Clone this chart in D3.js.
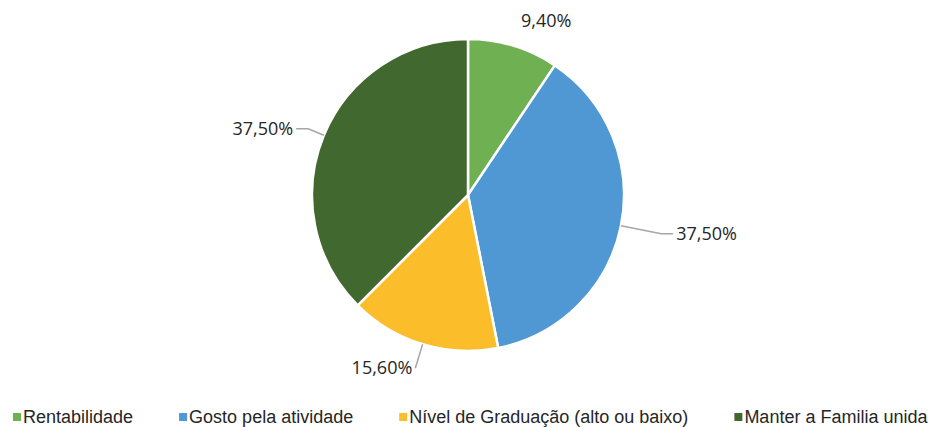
<!DOCTYPE html>
<html>
<head>
<meta charset="utf-8">
<script src="https://cdn.jsdelivr.net/npm/d3@7"></script>
<style>
  body { margin: 0; background: #ffffff; }
</style>
</head>
<body>
<div id="chart"></div>
<script>
//
// data
//
var categories = ["Rentabilidade", "Gosto pela atividade", "Nível de Graduação (alto ou baixo)", "Manter a Familia unida"];
var values = [9.4, 37.5, 15.6, 37.5];
var labels = ["9,40%", "37,50%", "15,60%", "37,50%"];
var colors = ["#6FB052", "#5098D4", "#FCBD2B", "#41692F"];

//
// layout: how far each label sits outside the pie, and whether it has a leader
//
var labelOffset = [26, 41, 25, 17];
var showLeader = [false, true, true, true];

var width = 937, height = 427;
var cx = 468, cy = 195, radius = 156;

var svg = d3.select("#chart").append("svg")
	.attr("width", width)
	.attr("height", height);

var data = categories.map(function(c, i) {
	return {name: c, value: values[i], label: labels[i], color: colors[i],
		off: labelOffset[i], leader: showLeader[i]};
});

//
// pie, starting at 12 o'clock and going clockwise
//
var pie = d3.pie()
	.sort(null)
	.value(function(d) { return d.value; });

var arc = d3.arc()
	.innerRadius(0)
	.outerRadius(radius);

var arcs = pie(data);

var g = svg.append("g")
	.attr("transform", "translate(" + cx + "," + cy + ")");

g.selectAll("path.slice")
	.data(arcs)
	.enter().append("path")
	.attr("class", "slice")
	.attr("d", arc)
	.style("fill", function(d) { return d.data.color; })
	.style("stroke", "#ffffff")
	.style("stroke-width", 2.5);

//
// data labels with leader lines
//
function mid(d) { return (d.startAngle + d.endAngle) / 2; }
function pt(a, r) { return [Math.sin(a) * r, -Math.cos(a) * r]; }

arcs.forEach(function(d) {
	var a = mid(d);
	var side = Math.sin(a) >= 0 ? 1 : -1;
	var tail = Math.abs(Math.sin(a)) > 0.5 ? 12 : 0;
	var p0 = pt(a, radius);
	var p1 = pt(a, radius + d.data.off);
	var p2 = [p1[0] + side * tail, p1[1]];

	if (d.data.leader) {
		g.append("polyline")
			.attr("points", [p0, p1, p2].map(function(p) { return p.join(","); }).join(" "))
			.style("fill", "none")
			.style("stroke", "#a6a6a6")
			.style("stroke-width", 1.5);
	}

	var tx = d.data.leader ? p2[0] + side * 3 : p1[0];
	g.append("text")
		.attr("x", tx)
		.attr("y", p1[1])
		.attr("dy", "0.35em")
		.attr("text-anchor", d.data.leader ? (side > 0 ? "start" : "end") : "start")
		.style("font-family", "'Open Sans', 'DejaVu Sans', sans-serif")
		.style("font-size", "18px")
		.style("fill", "#262626")
		.text(d.data.label);
});

//
// legend along the bottom
//
var legend = svg.append("g")
	.attr("transform", "translate(0,417)");

var x = 13;
data.forEach(function(d) {
	var item = legend.append("g").attr("transform", "translate(" + x + ",0)");
	item.append("rect")
		.attr("x", 0)
		.attr("y", -4)
		.attr("width", 8)
		.attr("height", 8)
		.style("fill", d.color);
	var t = item.append("text")
		.attr("x", 10)
		.attr("y", 0)
		.attr("dy", "0.35em")
		.style("font-family", "'Liberation Sans', Arial, sans-serif")
		.style("font-size", "18px")
		.style("fill", "#262626")
		.text(d.name);
	x += 10 + t.node().getComputedTextLength() + 46;
});
</script>
</body>
</html>
